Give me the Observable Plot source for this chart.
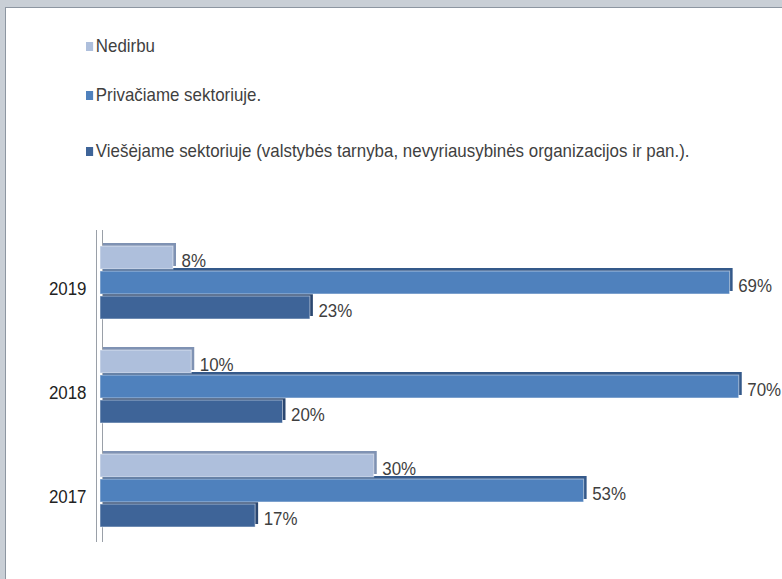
<!DOCTYPE html>
<html>
<head>
<meta charset="utf-8">
<script src="https://cdn.jsdelivr.net/npm/d3@7"></script>
<script src="https://cdn.jsdelivr.net/npm/@observablehq/plot@0.6"></script>
<style>
  html, body { margin: 0; padding: 0; background: #fff; }
  #frame { position: relative; width: 782px; height: 579px; background: #c9cfd6; overflow: hidden; }
  #inner { position: absolute; left: 5px; top: 7px; right: 0; bottom: 0; background: #fff;
           border-top: 1px solid #8d96a1; border-left: 1px solid #8d96a1; }
  .lg { position: absolute; left: 86px; font-family: "Liberation Sans", sans-serif;
        font-size: 19px; color: #3f3f3f; white-space: nowrap; transform: scaleX(0.89); transform-origin: left center; }
  .lg span.sw { display: inline-block; width: 8px; height: 9px; margin-right: 3px; vertical-align: 1px; }
  #chart { position: absolute; left: 0; top: 200px; }
</style>
</head>
<body>
<div id="frame"><div id="inner"></div>
  <div id="legend"></div>
  <div id="chart"></div>
</div>
<script>
const years = ["2019", "2018", "2017"];
const series = ["Nedirbu", "Privačiame sektoriuje.", "Viešėjame sektoriuje (valstybės tarnyba, nevyriausybinės organizacijos ir pan.)."];
const nedirbu = [8, 10, 30];
const privaciame = [69, 70, 53];
const viesejame = [23, 20, 17];
const colors = ["#aebfdc", "#4f81bd", "#3e6498"];
const sideColors = ["#7f92b3", "#34598a", "#2b4770"];

const data = [];
years.forEach((y, i) => {
  data.push({year: y, series: series[0], value: nedirbu[i]});
  data.push({year: y, series: series[1], value: privaciame[i]});
  data.push({year: y, series: series[2], value: viesejame[i]});
});

// legend
const legendTops = [35, 84, 140];
const legend = document.getElementById("legend");
series.forEach((s, i) => {
  const d = document.createElement("div");
  d.className = "lg";
  d.style.top = legendTops[i] + "px";
  d.innerHTML = `<span class="sw" style="background:${colors[i]}"></span>`;
  d.appendChild(document.createTextNode(s));
  legend.appendChild(d);
});

const plot = Plot.plot({
  width: 782,
  height: 379,
  marginLeft: 100,
  marginRight: 25,
  marginTop: 30,
  marginBottom: 37,
  style: {fontFamily: '"Liberation Sans", sans-serif', background: "transparent"},
  x: {domain: [0, 72], axis: null},
  fy: {domain: years, padding: 0, label: null},
  y: {domain: series, paddingInner: 0.1, paddingOuter: 0.6, axis: null},
  color: {domain: series, range: colors},
  marks: [
    Plot.ruleX([0], {stroke: "#9aa0a8", strokeWidth: 1, dx: -4}),
    Plot.ruleX([0], {stroke: "#9aa0a8", strokeWidth: 1, dx: 2}),
    Plot.barX(data, {y: "series", fy: "year", x: "value", fill: (d) => sideColors[series.indexOf(d.series)], dx: 3, dy: -3}),
    Plot.barX(data, {y: "series", fy: "year", x: "value", fill: "series", stroke: "#ffffff", strokeOpacity: 0.5, strokeWidth: 1}),
    Plot.text(data, {y: "series", fy: "year", x: "value", text: (d) => d.value + "%", textAnchor: "start", dx: 8, dy: 3,
      fontSize: 19, fill: "#3f3f3f"}),
    Plot.axisFy({anchor: "left", tickSize: 0, tickPadding: 14, fontSize: 19, dy: 6, label: null, fill: "#222"})
  ]
});
// condense the text horizontally, like the narrow font of the original
plot.querySelectorAll("text").forEach((t) => {
  const tr = t.getAttribute("transform") || "";
  t.setAttribute("transform", tr + " scale(0.89,1)");
});
document.getElementById("chart").appendChild(plot);
</script>
</body>
</html>
